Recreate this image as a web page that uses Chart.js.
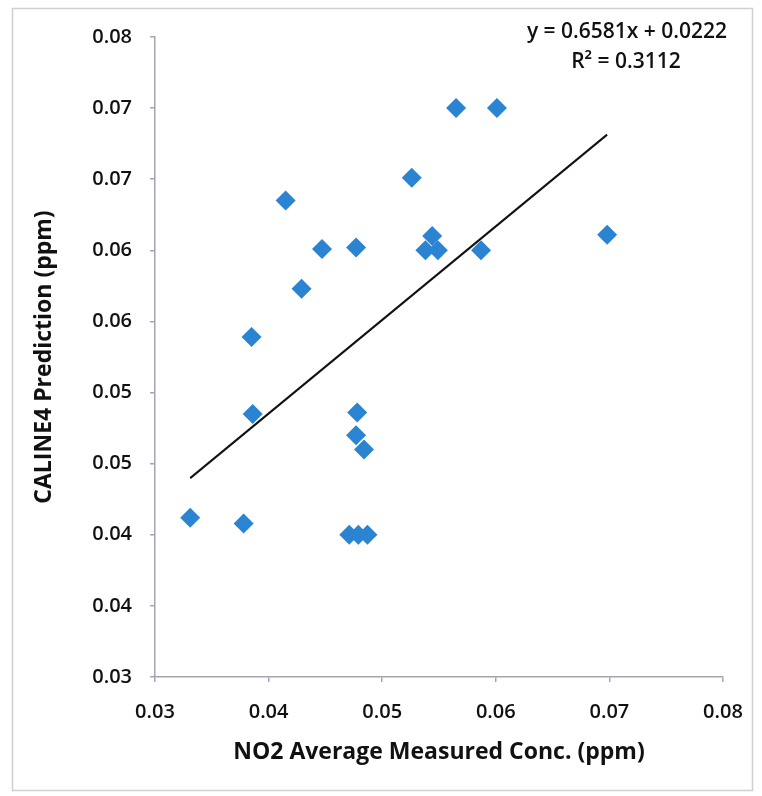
<!DOCTYPE html>
<html>
<head>
<meta charset="utf-8">
<script src="https://cdn.jsdelivr.net/npm/chart.js@4.4.0/dist/chart.umd.min.js"></script>
<style>
  html, body { margin: 0; padding: 0; background: #fff; }
  #wrap { width: 762px; height: 796px; position: relative; }
</style>
</head>
<body>
<div id="wrap"><canvas id="scatterChart" width="762" height="796"></canvas></div>
<script>
// measured NO2 (x) vs CALINE4 prediction (y), ppm
const measured = [0.0331, 0.0378, 0.0386, 0.0385, 0.0429, 0.0415, 0.0447, 0.0477, 0.0478, 0.0477, 0.0484,
                  0.0471, 0.0479, 0.0487, 0.0526, 0.0538, 0.0544, 0.0549, 0.0565, 0.0587, 0.0601, 0.0698];
const predicted = [0.0412, 0.0408, 0.0485, 0.0539, 0.0573, 0.0635, 0.0601, 0.0602, 0.0486, 0.0470, 0.0460,
                   0.0400, 0.0400, 0.0400, 0.0651, 0.0600, 0.0610, 0.0600, 0.0700, 0.0600, 0.0700, 0.0611];

const trendSlope = 0.6581;
const trendIntercept = 0.0222;
const trendLabel = ['y = 0.6581x + 0.0222', 'R\u00B2 = 0.3112'];

const xTickLabels = ['0.03', '0.04', '0.05', '0.06', '0.07', '0.08'];
const yTickLabels = ['0.03', '0.04', '0.04', '0.05', '0.05', '0.06', '0.06', '0.07', '0.07', '0.08'];

const xTitle = 'NO2 Average Measured Conc. (ppm)';
const yTitle = 'CALINE4 Prediction (ppm)';

document.addEventListener("DOMContentLoaded", function () {
    const points = measured.map((x, i) => ({ x: x, y: predicted[i] }));
    const xMin = Math.min(...measured);
    const xMax = Math.max(...measured);
    const trend = [
        { x: xMin, y: trendSlope * xMin + trendIntercept },
        { x: xMax, y: trendSlope * xMax + trendIntercept }
    ];

    const axisColor = '#a4a4b4';
    const textColor = '#111';
    const tickFont = { family: 'Open Sans', size: 20, weight: '600' };
    const titleFont = { family: 'Open Sans', size: 23, weight: 'bold' };

    /* frame round the whole chart + trendline label */
    const extras = {
        id: 'extras',
        beforeDraw(chart) {
            const ctx = chart.ctx;
            ctx.save();
            ctx.fillStyle = '#fff';
            ctx.fillRect(0, 0, chart.width, chart.height);
            ctx.strokeStyle = '#cfcfd8';
            ctx.lineWidth = 1.5;
            ctx.strokeRect(12.5, 8.5, chart.width - 22, chart.height - 14);
            ctx.restore();
        },
        afterDraw(chart) {
            const ctx = chart.ctx;
            const area = chart.chartArea;
            ctx.save();
            ctx.fillStyle = textColor;
            ctx.font = '600 21px "Open Sans"';
            ctx.textAlign = 'center';
            ctx.textBaseline = 'middle';
            ctx.fillText(trendLabel[0], area.right - 96, area.top - 5);
            ctx.fillText(trendLabel[1], area.right - 97, area.top + 25);
            ctx.restore();
        }
    };

    new Chart(document.getElementById('scatterChart'), {
        type: 'scatter',
        data: {
            datasets: [{
                label: 'CALINE4',
                data: points,
                pointStyle: 'rectRot',
                pointRadius: 10,
                pointHoverRadius: 10,
                backgroundColor: '#2b84d2',
                borderColor: '#2b84d2',
                borderWidth: 0
            }, {
                label: 'Linear',
                type: 'line',
                data: trend,
                borderColor: '#111',
                borderWidth: 2,
                pointRadius: 0,
                fill: false
            }]
        },
        options: {
            responsive: false,
            animation: false,
            layout: { padding: { left: 31, right: 39, top: 37, bottom: 30 } },
            plugins: {
                legend: { display: false },
                tooltip: { enabled: false }
            },
            scales: {
                x: {
                    type: 'linear',
                    min: 0.03,
                    max: 0.08,
                    afterFit: s => { s.height = 89; },
                    ticks: {
                        stepSize: 0.01,
                        color: textColor,
                        font: tickFont,
                        padding: 18,
                        maxRotation: 0,
                        callback: (v, i) => xTickLabels[i]
                    },
                    grid: { drawOnChartArea: false, tickLength: 5, color: axisColor, lineWidth: 1.5 },
                    border: { display: true, color: axisColor, width: 1.5 },
                    title: { display: true, text: xTitle, color: textColor, font: titleFont, padding: 0 }
                },
                y: {
                    type: 'linear',
                    min: 0.03,
                    max: 0.075,
                    afterFit: s => { s.width = 124; },
                    ticks: {
                        stepSize: 0.005,
                        color: textColor,
                        font: tickFont,
                        padding: 18,
                        callback: (v, i) => yTickLabels[i]
                    },
                    grid: { drawOnChartArea: false, tickLength: 5, color: axisColor, lineWidth: 1.5 },
                    border: { display: true, color: axisColor, width: 1.5 },
                    title: { display: true, text: yTitle, color: textColor, font: titleFont, padding: 0 }
                }
            }
        },
        plugins: [extras]
    });
});
</script>
</body>
</html>
